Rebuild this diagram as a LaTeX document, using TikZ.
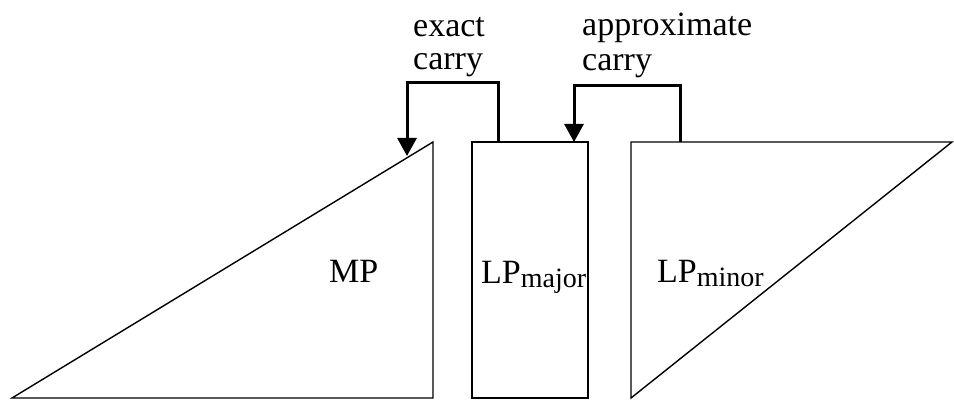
\documentclass[tikz,border=0pt]{standalone}
\usepackage{fontspec}
\setmainfont{Liberation Serif}
\usetikzlibrary{arrows.meta}
\begin{document}
\begin{tikzpicture}[x=1pt,y=1pt,
  blockshape/.style={draw=black,line width=1.4pt,line join=miter},
  carryarrow/.style={draw=black,line width=3pt,-{Triangle[length=18pt,width=19pt]}},
  lbl/.style={anchor=base west,inner sep=0pt,font=\fontsize{34}{40}\selectfont}]
\useasboundingbox (0,0) rectangle (954,401);
% shapes
\draw[blockshape] (12,3) -- (433,259) -- (433,3) -- cycle;
\draw[blockshape] (472,3) rectangle (588,259);
\draw[blockshape] (631,3) -- (631,259) -- (952,259) -- cycle;
% anchor coordinates
\coordinate (ecstart) at (498,259);
\coordinate (ectip) at (407,245);
\coordinate (acstart) at (680,259);
\coordinate (actip) at (574,259);
% carries
\draw[carryarrow] (ecstart) -- (498,318) -- (407,318) -- (ectip);
\draw[carryarrow] (acstart) -- (680,315) -- (574,315) -- (actip);
% labels
\node[lbl] (exact) at (413,364) {exact};
\node[lbl] (carry1) at (413,331) {carry};
\node[lbl] (approx) at (582,365) {approximate};
\node[lbl] (carry2) at (582,330) {carry};
\node[lbl] (mp) at (329,118) {MP};
\node[lbl] (lpmaj) at (481,117) {LP\raisebox{-4pt}{\fontsize{28}{30}\selectfont major}};
\node[lbl] (lpmin) at (657,118) {LP\raisebox{-4pt}{\fontsize{28}{30}\selectfont minor}};
\end{tikzpicture}
\end{document}
